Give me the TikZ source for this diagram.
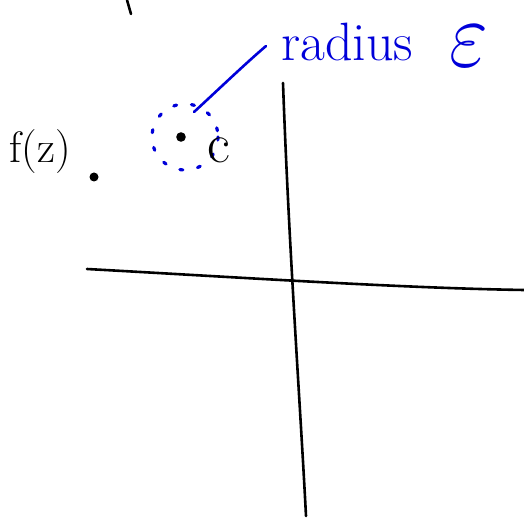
\documentclass[tikz,border=0pt]{standalone}
\begin{document}
\begin{tikzpicture}[x=1pt,y=-1pt,
  ink/.style={line width=2.6pt,line cap=round,line join=round,black},
  blueink/.style={line width=2.6pt,line cap=round,blue!85!black},
  dotted circ/.style={blue!85!black,line width=3.2pt,line cap=round,dash pattern=on 3pt off 15pt},
  lbl/.style={inner sep=0pt,anchor=center}]
\useasboundingbox (0,0) rectangle (524,518);
% top stray stroke
\coordinate (s1) at (127,0);
\coordinate (s2) at (131,14);
\draw[ink] (s1) -- (s2);
% axes
\coordinate (vtop) at (283,83);
\coordinate (vbot) at (306,516);
\coordinate (hleft) at (87,269);
\coordinate (hright) at (524,290);
\draw[ink] (vtop) .. controls (289,250) and (300,400) .. (vbot);
\draw[ink] (hleft) .. controls (250,278) and (400,288) .. (hright);
% f(z) and its point
\node[lbl,font=\fontsize{44}{44}\selectfont] (fz) at (40,152) {f(z)};
\fill (94,177) circle (4.5pt) node (fzp) {};
% centre point and dotted circle
\coordinate (c0) at (185,137);
\fill (181,137) circle (4.8pt) node (cp) {};
\draw[dotted circ] (c0) circle (33);
\node[lbl,font=\fontsize{56}{56}\selectfont] (c) at (219,150) {c};
% radius label and pointer
\node[lbl,anchor=west,text=blue!85!black,font=\fontsize{54}{54}\selectfont] (rad) at (281,42) {radius};
\node[lbl,text=blue!85!black,font=\Huge,xscale=3.4,yscale=3.8] (eps) at (469,46) {$\varepsilon$};
\coordinate (pstart) at (194,112);
\coordinate (pend) at (266,46);
\draw[blueink] (pstart) .. controls (220,88) and (245,64) .. (pend);
\end{tikzpicture}
\end{document}
